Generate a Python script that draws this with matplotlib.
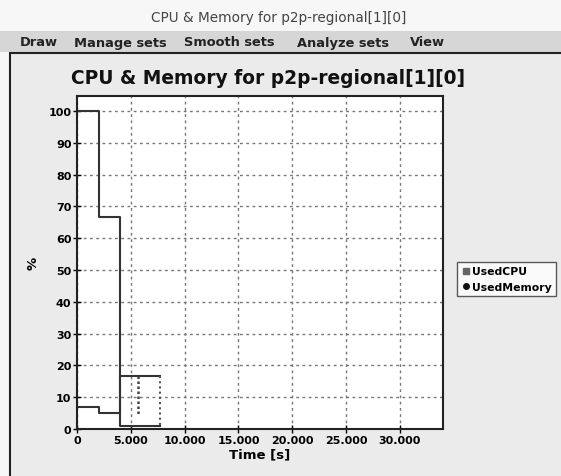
"""
CPU & Memory for p2p-regional[1][0] -- screenshot-style recreation
"""

import matplotlib
matplotlib.use("Agg")
import matplotlib.pyplot as plt
from matplotlib.patches import Rectangle
from matplotlib.ticker import FuncFormatter, MultipleLocator

# data
time_s = [0, 2000, 4000, 7700]
used_cpu = [100, 66.5, 1, 1]
used_memory = [7, 5, 16.6, 16.6]
# dotted bits inside the small box
drop_x = [7700, 7700]
drop_y = [16.6, 1]
spike_x = [5700, 5700]
spike_y = [16.6, 4.2]

TITLE = "CPU & Memory for p2p-regional[1][0]"
MENU = [("Draw", 20), ("Manage sets", 74), ("Smooth sets", 184),
        ("Analyze sets", 297), ("View", 410)]

W, H = 561, 477
plt.rcParams["font.family"] = ["DejaVu Sans"]

fig = plt.figure(figsize=(W / 100, H / 100), dpi=100)
fig.patch.set_facecolor("#f7f7f7")

# menu bar band + panel
fig.add_artist(Rectangle((0, 1 - 53 / H), 1, 21 / H, transform=fig.transFigure,
                         facecolor="#d6d6d6", edgecolor="none", zorder=0))
fig.add_artist(Rectangle((10 / W, -0.01), 1, (H - 54) / H + 0.01, transform=fig.transFigure,
                         facecolor="#ebebeb", edgecolor="#222222", linewidth=1.5, zorder=0))

fig.text(279 / W, 1 - 18 / H, TITLE, ha="center", va="center", fontsize=9.8, color="#444444")
for name, x in MENU:
    fig.text(x / W, 1 - 43 / H, name, ha="left", va="center", fontsize=9.4,
             fontweight="bold", color="#222222")
fig.text(268 / W, 1 - 79 / H, TITLE, ha="center", va="center", fontsize=13.4,
         fontweight="bold", color="#111111")

ax = fig.add_axes([77 / W, 47 / H, 366 / W, 333 / H])
ax.set_facecolor("white")

ax.step(time_s, used_cpu, where="post", color="#333333", linewidth=1.5, label="UsedCPU")
ax.step(time_s, used_memory, where="post", color="#333333", linewidth=1.5, label="UsedMemory")
ax.plot(drop_x, drop_y, color="#555555", linestyle=(0, (1, 1.5)), linewidth=1.5)
ax.plot(spike_x, spike_y, color="#444444", linestyle=(0, (1, 1)), linewidth=1.8)

ax.set_xlim(0, 34000)
ax.set_ylim(0, 104.7)
ax.xaxis.set_major_locator(MultipleLocator(5000))
ax.yaxis.set_major_locator(MultipleLocator(10))
ax.xaxis.set_major_formatter(FuncFormatter(lambda v, p: f"{int(v):,}".replace(",", ".")))
ax.grid(True, color="#777777", linestyle=(0, (2, 2.5)), linewidth=1)
ax.tick_params(direction="inout", length=6, width=1, labelsize=8, pad=1)
for lbl in ax.get_xticklabels() + ax.get_yticklabels():
    lbl.set_fontweight("bold")
for s in ax.spines.values():
    s.set_linewidth(1.5)
    s.set_color("#222222")

ax.set_xlabel("Time [s]", fontsize=9.5, fontweight="bold", labelpad=2)
ax.set_ylabel("%", fontsize=9.5, fontweight="bold", labelpad=6)

# legend markers: grey square and black circle
h1 = plt.Line2D([], [], marker="s", color="#666666", linestyle="none", markersize=4)
h2 = plt.Line2D([], [], marker="o", color="#111111", linestyle="none", markersize=4)
leg = fig.legend([h1, h2], ["UsedCPU", "UsedMemory"], loc="upper left",
                 bbox_to_anchor=(457 / W, 1 - 263 / H), prop={"size": 7.8, "weight": "bold"},
                 frameon=True, fancybox=False, handletextpad=0.2, handlelength=0.8,
                 borderpad=0.4, labelspacing=0.5, borderaxespad=0)
leg.get_frame().set_edgecolor("#333333")
leg.get_frame().set_linewidth(1)

plt.savefig("out.png", dpi=100)
plt.close()
